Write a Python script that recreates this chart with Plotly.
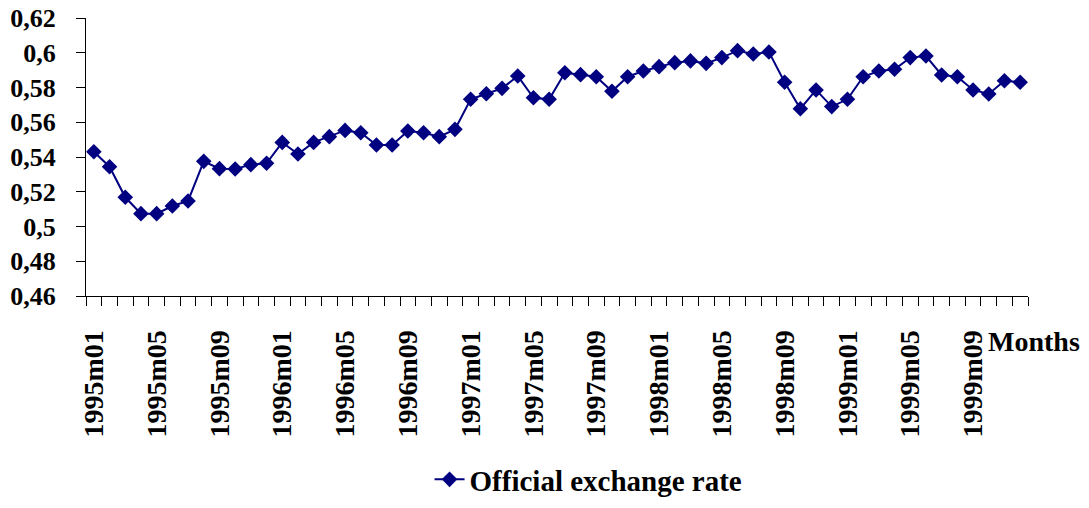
import plotly.graph_objects as go

# ---- data ----
months = [f"{y}m{m:02d}" for y in range(1995, 2000) for m in range(1, 13)]
rate = [0.5430, 0.5344, 0.5168, 0.5074, 0.5074, 0.5118, 0.5147, 0.5375, 0.5333, 0.5331,
        0.5356, 0.5364, 0.5484, 0.5417, 0.5484, 0.5517, 0.5553, 0.5540, 0.5469, 0.5469,
        0.5550, 0.5540, 0.5517, 0.5559, 0.5732, 0.5764, 0.5795, 0.5866, 0.5741, 0.5732,
        0.5885, 0.5874, 0.5862, 0.5778, 0.5862, 0.5895, 0.5920, 0.5943, 0.5953, 0.5939,
        0.5972, 0.6012, 0.5993, 0.6004, 0.5830, 0.5678, 0.5786, 0.5690, 0.5732, 0.5862,
        0.5895, 0.5905, 0.5972, 0.5981, 0.5872, 0.5862, 0.5786, 0.5763, 0.5839, 0.5830]
y_ticks = [0.46, 0.48, 0.50, 0.52, 0.54, 0.56, 0.58, 0.60, 0.62]
y_ticktext = ["0,46", "0,48", "0,5", "0,52", "0,54", "0,56", "0,58", "0,6", "0,62"]
label_step = 4
series_name = "Official exchange rate"
x_title = "Months"

x_idx = list(range(len(months)))
label_idx = x_idx[::label_step]

FONT = "Liberation Serif"
NAVY = "#000080"
PAGE_OFFSET = 8  # default body margin of the html page

fig = go.Figure()
fig.add_trace(go.Scatter(
    x=x_idx, y=rate, mode="lines+markers", name=series_name,
    line=dict(color=NAVY, width=2),
    marker=dict(symbol="diamond", size=12, color=NAVY),
))

fig.update_layout(
    template="none",
    width=1089 - PAGE_OFFSET, height=508 - PAGE_OFFSET,
    margin=dict(l=86 - PAGE_OFFSET, r=61, t=18 - PAGE_OFFSET, b=212, autoexpand=False),
    paper_bgcolor="white", plot_bgcolor="white",
    font=dict(family=FONT, size=28, color="black", weight="bold"),
    showlegend=True,
    legend=dict(orientation="h", x=0.5335, xanchor="center", y=-0.66, yanchor="middle",
                font=dict(family=FONT, size=29, color="black", weight="bold"),
                bgcolor="rgba(0,0,0,0)"),
    xaxis=dict(
        range=[-0.5, len(months) - 0.5],
        tickmode="array", tickvals=label_idx, ticktext=[months[i] for i in label_idx],
        tickangle=-90, ticks="", showgrid=False, zeroline=False,
        showline=True, linecolor="black", linewidth=1,
        ticklabelstandoff=22, automargin=False, ticklabeloverflow="allow",
        tickfont=dict(family=FONT, size=28, color="black", weight="bold"),
        minor=dict(tickmode="array", tickvals=[i - 0.5 for i in range(len(months) + 1)],
                   ticks="outside", ticklen=9, tickcolor="black", tickwidth=1, showgrid=False),
    ),
    yaxis=dict(
        range=[y_ticks[0], y_ticks[-1]],
        tickmode="array", tickvals=y_ticks, ticktext=y_ticktext,
        ticks="outside", ticklen=9, tickcolor="black", tickwidth=1,
        showgrid=False, zeroline=False,
        showline=True, linecolor="black", linewidth=1,
        ticklabelstandoff=15, automargin=False, ticklabeloverflow="allow",
        tickfont=dict(family=FONT, size=26, color="black", weight="bold"),
    ),
    annotations=[dict(
        text=x_title, xref="paper", yref="paper", x=0.9554, y=-0.162,
        xanchor="left", yanchor="middle", showarrow=False,
        font=dict(family=FONT, size=28, color="black", weight="bold"),
    )],
)

fig.write_html("out.html")
